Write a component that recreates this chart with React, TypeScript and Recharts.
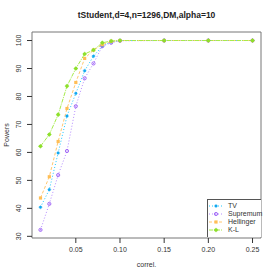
import { LineChart, Line, XAxis, YAxis, ReferenceArea } from 'recharts'

const correl = [0.01, 0.02, 0.03, 0.04, 0.05, 0.06, 0.07, 0.08, 0.09, 0.1, 0.15, 0.2, 0.25]
const tvPower = [40.4, 46.7, 59.8, 73.0, 81.1, 89.2, 94.4, 98.0, 99.5, 100, 100, 100, 100]
const supremumPower = [32.3, 41.6, 51.9, 60.5, 76.5, 86.5, 91.8, 98.0, 99.2, 99.9, 100, 100, 100]
const hellingerPower = [43.7, 51.3, 63.9, 75.7, 85.0, 93.6, 96.6, 98.5, 99.7, 100, 100, 100, 100]
const klPower = [62.2, 66.4, 73.5, 83.7, 90.0, 95.2, 96.6, 99.2, 99.8, 100, 100, 100, 100]

const xTicks = [0.05, 0.1, 0.15, 0.2, 0.25]
const yTicks = [30, 40, 50, 60, 70, 80, 90, 100]

const chartTitle = 'tStudent,d=4,n=1296,DM,alpha=10'

const series = [
  { key: 'tv', name: 'TV', color: '#1ec8ff', dot: '#12a8f0', dash: '1 2', shape: 'star' },
  { key: 'sup', name: 'Supremum', color: '#b58cff', dot: '#9a5cf5', dash: '1 2', shape: 'ring' },
  { key: 'hel', name: 'Hellinger', color: '#ffc870', dot: '#ffbe55', dash: '3 2', shape: 'square' },
  { key: 'kl', name: 'K-L', color: '#a6ec4a', dot: '#8ee02c', dash: '4 1 1 1', shape: 'plus' },
]

const data = correl.map((c, i) => ({
  c,
  tv: tvPower[i],
  sup: supremumPower[i],
  hel: hellingerPower[i],
  kl: klPower[i],
}))

const font = '"Liberation Sans", Arial, sans-serif'

function Marker({ cx, cy, shape, color }: any) {
  if (cx == null || cy == null) return null
  if (shape === 'square') {
    return <rect x={cx - 1.6} y={cy - 1.6} width={3.2} height={3.2} fill={color} />
  }
  if (shape === 'ring') {
    return (
      <g>
        <circle cx={cx} cy={cy} r={1.6} fill="none" stroke={color} strokeWidth={0.9} />
        <circle cx={cx} cy={cy} r={0.5} fill={color} />
      </g>
    )
  }
  if (shape === 'plus') {
    return (
      <g>
        <circle cx={cx} cy={cy} r={1.8} fill={color} />
        <path d={`M${cx - 2.2},${cy}H${cx + 2.2}M${cx},${cy - 2.2}V${cy + 2.2}`} stroke={color} strokeWidth={0.7} />
      </g>
    )
  }
  return (
    <g>
      <rect x={cx - 1.2} y={cy - 1.2} width={2.4} height={2.4} fill={color} />
      <path d={`M${cx - 2},${cy}H${cx + 2}M${cx},${cy - 2}V${cy + 2}`} stroke={color} strokeWidth={0.5} />
    </g>
  )
}

function YTick({ x, y, payload }: any) {
  return (
    <g>
      <line x1={x - 5} y1={y} x2={x} y2={y} stroke="#333" strokeWidth={1} />
      <text
        x={x - 11}
        y={y}
        transform={`rotate(-90 ${x - 11} ${y})`}
        textAnchor="middle"
        fontSize={7}
        fill="#333"
        fontFamily={font}
      >
        {payload.value}
      </text>
    </g>
  )
}

function XTick({ x, y, payload }: any) {
  return (
    <g>
      <line x1={x} y1={y} x2={x} y2={y + 5} stroke="#333" strokeWidth={1} />
      <text x={x} y={y + 14} textAnchor="middle" fontSize={7} fill="#333" fontFamily={font}>
        {payload.value.toFixed(2)}
      </text>
    </g>
  )
}

function LegendBox() {
  return (
    <div
      style={{
        position: 'absolute',
        left: 207,
        top: 199,
        width: 54,
        height: 38,
        borderLeft: '1px solid #555',
        borderTop: '1px solid #555',
        boxSizing: 'border-box',
        background: 'white',
        fontFamily: font,
        fontSize: 7,
        color: '#333',
      }}
    >
      {series.map((s, i) => (
        <div key={s.key} style={{ position: 'absolute', left: 0, top: 2 + i * 8.1, height: 8, width: 53 }}>
          <svg width={20} height={8} style={{ position: 'absolute', left: 0, top: 0 }}>
            <line x1={1} y1={4} x2={15} y2={4} stroke={s.color} strokeDasharray={s.dash} strokeWidth={1} />
            <Marker cx={8} cy={4} shape={s.shape} color={s.dot} />
          </svg>
          <span style={{ position: 'absolute', left: 20, top: 0, lineHeight: '8px' }}>{s.name}</span>
        </div>
      ))}
    </div>
  )
}

export default function App() {
  return (
    <div style={{ position: 'fixed', left: 0, top: 0, width: 278, height: 278, background: 'white' }}>
      <div
        style={{
          position: 'absolute',
          top: 10,
          left: 32,
          width: 229,
          textAlign: 'center',
          fontFamily: font,
          fontWeight: 'bold',
          fontSize: 8.5,
          color: '#222',
        }}
      >
        {chartTitle}
      </div>
      <div
        style={{
          position: 'absolute',
          left: -13,
          top: 130,
          width: 40,
          height: 10,
          lineHeight: '10px',
          transform: 'rotate(-90deg)',
          fontFamily: font,
          fontSize: 7,
          color: '#333',
          textAlign: 'center',
        }}
      >
        Powers
      </div>
      <div
        style={{
          position: 'absolute',
          top: 261,
          left: 32,
          width: 229,
          textAlign: 'center',
          fontFamily: font,
          fontSize: 7,
          color: '#333',
        }}
      >
        correl.
      </div>
      <LineChart width={278} height={278} data={data} margin={{ top: 32, right: 17, left: 0, bottom: 0 }}>
        <XAxis
          dataKey="c"
          type="number"
          domain={[0.0004, 0.2596]}
          ticks={xTicks}
          interval={0}
          allowDataOverflow
          height={40}
          axisLine={false}
          tickLine={false}
          tickSize={0}
          tickMargin={0}
          tick={<XTick />}
        />
        <YAxis
          type="number"
          domain={[29.4, 103.05]}
          ticks={yTicks}
          interval={0}
          allowDataOverflow
          width={32}
          axisLine={false}
          tickLine={false}
          tickSize={0}
          tickMargin={0}
          tick={<YTick />}
        />
        <ReferenceArea
          x1={0.0004}
          x2={0.2596}
          y1={29.4}
          y2={103.05}
          fill="none"
          stroke="#777"
          strokeWidth={1}
          ifOverflow="visible"
        />
        {series.map(s => (
          <Line
            key={s.key}
            dataKey={s.key}
            name={s.name}
            stroke={s.color}
            strokeWidth={1}
            strokeDasharray={s.dash}
            isAnimationActive={false}
            dot={(p: any) => <Marker key={`${s.key}-${p.index}`} cx={p.cx} cy={p.cy} shape={s.shape} color={s.dot} />}
            activeDot={false}
          />
        ))}
      </LineChart>
      <LegendBox />
    </div>
  )
}
